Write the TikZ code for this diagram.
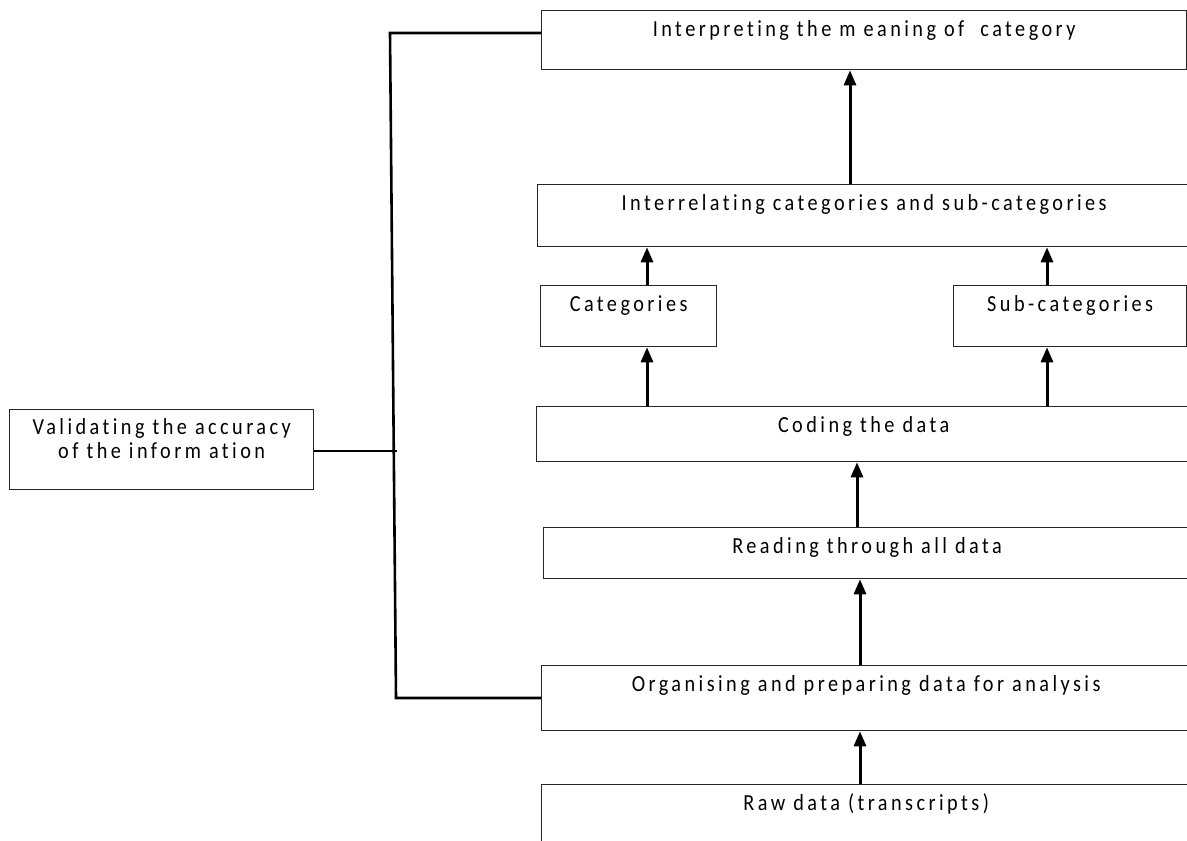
\documentclass[tikz,border=0pt]{standalone}
\usepackage{fontspec}
\setmainfont{Carlito}[LetterSpace=15, FakeStretch=0.88, Ligatures=NoCommon]
\usetikzlibrary{arrows.meta}

\begin{document}
\begin{tikzpicture}[
    x=1pt, y=-1pt,
    box/.style={draw=black!85, line width=1.3pt, anchor=north west, inner sep=0pt,
      align=center, font=\fontsize{23}{24}\selectfont, text height=26pt},
    flow/.style={line width=3pt, -{Triangle[width=12pt,length=15pt]}},
    bracket/.style={line width=2.6pt}
    ]
    \clip (0,0) rectangle (1187,841);
    % boxes
    \node[box, minimum width=645pt, text depth=33pt] (interp) at (541,10) {Interpreting the m eaning of \ category};
    \node[box, minimum width=653pt, text depth=36pt] (inter) at (537,184) {Interrelating categories and sub-categories};
    \node[box, minimum width=176pt, text depth=35pt] (cats) at (540,285) {Categories};
    \node[box, minimum width=233pt, text depth=35pt] (subcats) at (953,285) {Sub-categories};
    \node[box, minimum width=654pt, text depth=29pt] (coding) at (536,406) {Coding the data};
    \node[box, minimum width=647pt, text depth=25pt] (reading) at (543,527) {Reading through all data};
    \node[box, minimum width=649pt, text depth=39pt] (organ) at (541,665) {Organising and preparing data for analysis};
    \node[box, minimum width=649pt, text depth=54pt] (raw) at (541,784) {Raw data (transcripts)};
    \node[box, minimum width=304pt, text height=49pt, text depth=31pt] (valid) at (9,409) {Validating the accuracy\\of the inform ation};
    % arrow columns
    \coordinate (xa) at (850,0);
    \coordinate (xl) at (647,0);
    \coordinate (xr) at (1047,0);
    \coordinate (xc) at (857,0);
    \coordinate (xd) at (860,0);
    \draw[flow] (inter.north -| xa) -- (interp.south -| xa);
    \draw[flow] (cats.north -| xl) -- (inter.south -| xl);
    \draw[flow] (subcats.north -| xr) -- (inter.south -| xr);
    \draw[flow] (coding.north -| xl) -- (cats.south -| xl);
    \draw[flow] (coding.north -| xr) -- (subcats.south -| xr);
    \draw[flow] (reading.north -| xc) -- (coding.south -| xc);
    \draw[flow] (organ.north -| xd) -- (reading.south -| xd);
    \draw[flow] (raw.north -| xd) -- (organ.south -| xd);
    % validation bracket
    \coordinate (bt) at (390,33);
    \coordinate (bb) at (396,698);
    \coordinate (bm) at (397,451);
    \draw[bracket] (interp.west |- bt) -- (bt) -- (bb) -- (organ.west |- bb);
    \draw[bracket] (valid.east |- bm) -- (bm);
\end{tikzpicture}
\end{document}
